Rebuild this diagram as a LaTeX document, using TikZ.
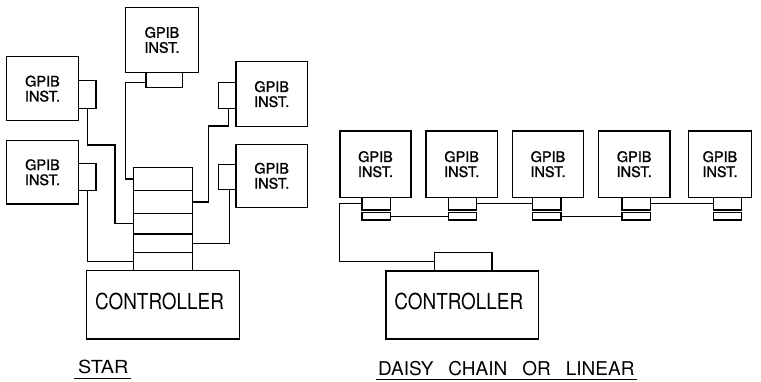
\documentclass[tikz,border=0pt]{standalone}
\usepackage{fontspec}
\usepackage{graphicx}
\setmainfont[AutoFakeBold=1.2]{TeX Gyre Heros}
\tikzset{
  bx/.style={draw, line width=1.4pt, inner sep=0pt},
  inst/.style={bx, align=center, font=\fontsize{14.5}{15}\selectfont\bfseries},
  ctrl/.style={bx, minimum width=152.6pt, minimum height=68.3pt, text depth=7pt,
    font=\fontsize{22}{22}\selectfont},
  wire/.style={line width=1.2pt},
  caplabel/.style={inner sep=0pt, anchor=base}
}
\begin{document}
\begin{tikzpicture}[x=1pt,y=-1pt]
\useasboundingbox (0,0) rectangle (761,381);
% ---------------- STAR ----------------
\node[inst, minimum width=72.6pt, minimum height=65.4pt] (s1) at (162,40) {GPIB\\INST.};
\node[bx, minimum width=36.7pt, minimum height=14.6pt] (s1c) at (164.3,80) {};
\node[inst, minimum width=71.6pt, minimum height=64pt] (s2) at (42.5,88.7) {GPIB\\INST.};
\node[bx, minimum width=17.7pt, minimum height=27.6pt] (s2c) at (87.2,94.5) {};
\node[inst, minimum width=71.6pt, minimum height=63.3pt] (s3) at (42.5,172.3) {GPIB\\INST.};
\node[bx, minimum width=17.7pt, minimum height=27.4pt] (s3c) at (87.2,177) {};
\node[inst, minimum width=71.3pt, minimum height=65pt] (s4) at (271.7,94.2) {GPIB\\INST.};
\node[bx, minimum width=17.7pt, minimum height=26pt] (s4c) at (227.2,95.3) {};
\node[inst, minimum width=71.3pt, minimum height=63pt] (s5) at (271.7,175.8) {GPIB\\INST.};
\node[bx, minimum width=17.7pt, minimum height=25pt] (s5c) at (227.2,176.8) {};
% stack
\node[bx, minimum width=59.4pt, minimum height=23.4pt] (r1) at (163,179) {};
\node[bx, minimum width=59.4pt, minimum height=22.6pt] (r2) at (163,202) {};
\node[bx, minimum width=59.4pt, minimum height=20.7pt] (r3) at (163,223.65) {};
\node[bx, minimum width=59.4pt, minimum height=18.7pt] (r4) at (163,243.35) {};
\node[bx, minimum width=59.4pt, minimum height=18pt] (r5) at (163,261.7) {};
\node[ctrl] (sc) at (163,304.85) {\hspace*{-7pt}\scalebox{0.86}[1]{CONTROLLER}};
% wires
\draw[wire] ([yshift=-2.7pt]s1c.west) -- ++(-20,0) |- (r1.west);
\draw[wire] (s2c.south) |- (115,145) |- (r3.west);
\draw[wire] (s3c.south) |- (r5.west);
\draw[wire] ([xshift=1pt]s4c.south) |- (208.3,126) |- (r2.east);
\draw[wire] ([xshift=2.5pt]s5c.south) |- (r4.east);
\node[caplabel] (starlab) at (103.3,373.3) {\fontsize{18}{18}\selectfont\scalebox{1.1}[1]{STAR}};
\draw[wire] ([xshift=-3.5pt,yshift=-5pt]starlab.base west) -- ([xshift=2pt,yshift=-5pt]starlab.base east);
% ---------------- DAISY CHAIN ----------------
\node[inst, minimum width=71pt, minimum height=66.3pt] (d1) at (375.5,164.2) {GPIB\\INST.};
\node[inst, minimum width=71.3pt, minimum height=66.3pt] (d2) at (461.7,164.2) {GPIB\\INST.};
\node[inst, minimum width=71.4pt, minimum height=66.3pt] (d3) at (548,164.2) {GPIB\\INST.};
\node[inst, minimum width=71.7pt, minimum height=66.3pt] (d4) at (634.2,164.2) {GPIB\\INST.};
\node[inst, minimum width=63.4pt, minimum height=66.3pt] (d5) at (720,164.2) {GPIB\\INST.};
\foreach \i/\cx in {1/376.2, 2/462.5, 3/546.7, 4/636.3, 5/727.5}{
  \node[bx, minimum width=28.3pt, minimum height=12.7pt] (c\i u) at (\cx,203.65) {};
  \node[bx, minimum width=28.3pt, minimum height=7.5pt] (c\i l) at (\cx,216.25) {};
}
\node[bx, minimum width=57.7pt, minimum height=18.7pt] (dcc) at (463.2,261.65) {};
\node[ctrl, minimum width=152.7pt, minimum height=68pt] (dc) at (462.3,305) {\hspace*{-7pt}\scalebox{0.86}[1]{CONTROLLER}};
\draw[wire] (c1u.west) -- ++(-22,0) |- (dcc.west);
\draw[wire] (c1l.east) -- (c2l.west);
\draw[wire] (c2u.east) -- (c3u.west);
\draw[wire] (c3l.east) -- (c4l.west);
\draw[wire] (c4u.east) -- (c5u.west);
\node[caplabel] (dlab) at (506.3,375) {\fontsize{19}{19}\selectfont DAISY\hspace{15pt}CHAIN\hspace{15pt}OR\hspace{15pt}LINEAR};
\draw[wire] ([xshift=-2pt,yshift=-4.5pt]dlab.base west) -- ([xshift=2pt,yshift=-4.5pt]dlab.base east);
\end{tikzpicture}
\end{document}
